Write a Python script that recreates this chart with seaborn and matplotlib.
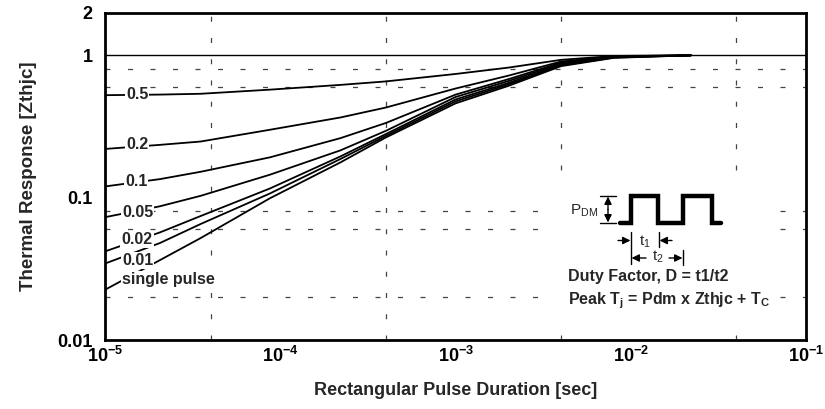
import numpy as np
import pandas as pd
import matplotlib
matplotlib.use("Agg")
import matplotlib.pyplot as plt
import seaborn as sns
from matplotlib.lines import Line2D
from matplotlib.patches import Rectangle, FancyArrowPatch
from matplotlib.ticker import FixedLocator, NullLocator, FixedFormatter

# ---------------- data ----------------
pulse_t = [1e-5, 2.05e-5, 3.5e-5, 8.7e-5, 2.2e-4, 4e-4, 1e-3, 2e-3, 4e-3, 8e-3, 2.2e-2]
z_d050 = [0.525, 0.53, 0.537, 0.574, 0.62, 0.656, 0.74, 0.82, 0.93, 0.99, 1.0]
z_d020 = [0.22, 0.235, 0.248, 0.30, 0.366, 0.43, 0.585, 0.72, 0.905, 0.985, 1.0]
z_d010 = [0.12, 0.135, 0.152, 0.192, 0.262, 0.335, 0.53, 0.68, 0.89, 0.98, 1.0]
z_d005 = [0.073, 0.087, 0.103, 0.145, 0.215, 0.295, 0.51, 0.66, 0.875, 0.975, 1.0]
z_d002 = [0.042, 0.057, 0.0743, 0.116, 0.195, 0.28, 0.49, 0.64, 0.86, 0.97, 1.0]
z_d001 = [0.0345, 0.048, 0.0653, 0.107, 0.187, 0.272, 0.475, 0.625, 0.85, 0.965, 1.0]
z_single = [0.0226, 0.0364, 0.052, 0.099, 0.177, 0.265, 0.46, 0.61, 0.84, 0.96, 1.0]

series_names = ["0.5", "0.2", "0.1", "0.05", "0.02", "0.01", "single pulse"]
series_vals = [z_d050, z_d020, z_d010, z_d005, z_d002, z_d001, z_single]
# label anchor positions (x, y) in data units
label_x = [1.52e-5, 1.52e-5, 1.5e-5, 1.53e-5, 1.52e-5, 1.53e-5, 1.24e-5]
label_y = [0.53, 0.235, 0.130, 0.0785, 0.0509, 0.0364, 0.0266]

x_ticks = [1e-5, 1e-4, 1e-3, 1e-2, 1e-1]
x_ticklabels = [r"$\mathbf{10^{-5}}$", r"$\mathbf{10^{-4}}$", r"$\mathbf{10^{-3}}$",
                r"$\mathbf{10^{-2}}$", r"$\mathbf{10^{-1}}$"]
y_ticks = [0.01, 0.1, 1, 2]
y_ticklabels = ["0.01", "0.1", "1", "2"]
grid_x = [4e-5, 4e-4, 4e-3, 4e-2]
grid_y = [0.02, 0.06, 0.08, 0.6, 0.8]

rows = []
for name, vals in zip(series_names, series_vals):
    for t, z in zip(pulse_t, vals):
        rows.append({"t": t, "z": z, "D": name})
df = pd.DataFrame(rows)

# ---------------- style ----------------
sns.set_theme(style="white")
plt.rcParams["font.family"] = ["Liberation Sans", "DejaVu Sans"]
plt.rcParams["mathtext.fontset"] = "custom"
plt.rcParams["mathtext.rm"] = "Liberation Sans"
plt.rcParams["mathtext.it"] = "Liberation Sans:italic"
plt.rcParams["mathtext.bf"] = "Liberation Sans:bold"

W, H = 825, 409
fig = plt.figure(figsize=(W / 100, H / 100), dpi=100)
ax = fig.add_axes([105.3 / W, 1 - 340 / H, (806 - 105.3) / W, (340 - 12.5) / H])

def fp(x, y):
    return (x / W, 1 - y / H)

# grid
for gx in grid_x:
    ax.axvline(gx, color="#444444", lw=0.9, ls=(0, (4, 13)), zorder=1)
for gy in grid_y:
    ax.axhline(gy, color="#444444", lw=0.9, ls=(0, (4, 14)), zorder=1)
ax.axhline(1.0, color="black", lw=1.0, zorder=2)

# white panel behind the pulse diagram (hides the grid there)
fig.add_artist(Rectangle(fp(550, 325), 228 / W, 140 / H, transform=fig.transFigure,
                         facecolor="white", edgecolor="none", zorder=1.5))

sns.lineplot(data=df, x="t", y="z", hue="D", palette=["black"] * 7,
             legend=False, lw=1.3, ax=ax, zorder=3)

ax.set_xscale("log")
ax.set_yscale("log")
ax.set_xlim(1e-5, 1e-1)
ax.set_ylim(0.01, 2)

ax.xaxis.set_major_locator(FixedLocator(x_ticks))
ax.xaxis.set_major_formatter(FixedFormatter(x_ticklabels))
ax.xaxis.set_minor_locator(NullLocator())
ax.yaxis.set_major_locator(FixedLocator(y_ticks))
ax.yaxis.set_major_formatter(FixedFormatter(y_ticklabels))
ax.yaxis.set_minor_locator(NullLocator())
ax.tick_params(axis="both", length=0, labelsize=13, colors="black")
ax.tick_params(axis="y", pad=9)
ax.tick_params(axis="x", pad=4)
for lab in ax.get_yticklabels():
    lab.set_fontweight("bold")

for s in ax.spines.values():
    s.set_color("black")
    s.set_linewidth(2.0)

ax.set_xlabel("Rectangular Pulse Duration [sec]", fontsize=13, fontweight="bold",
              labelpad=12)
ax.set_ylabel("Thermal Response [Zthjc]", fontsize=13.5, fontweight="bold", labelpad=15)

# curve labels
for name, lx, ly in zip(series_names, label_x, label_y):
    ha = "left" if name == "single pulse" else "center"
    ax.text(lx, ly, name, fontsize=11.5, fontweight="bold", ha=ha, va="center",
            zorder=5, bbox=dict(facecolor="white", edgecolor="none", pad=0.8))

# ---------------- pulse diagram inset ----------------
wave_x = [620, 631, 631, 657.5, 657.5, 682.5, 682.5, 711.5, 711.5, 721]
wave_y = [222.7, 222.7, 196, 196, 222.7, 222.7, 196, 196, 222.7, 222.7]
fig.add_artist(Line2D([x / W for x in wave_x], [1 - y / H for y in wave_y],
                      transform=fig.transFigure, color="black", lw=3.2,
                      solid_joinstyle="miter", zorder=4))

def fline(x0, y0, x1, y1, lw=1.0):
    fig.add_artist(Line2D([x0 / W, x1 / W], [1 - y0 / H, 1 - y1 / H],
                          transform=fig.transFigure, color="black", lw=lw, zorder=4))

def farrow(x0, y0, x1, y1):
    fig.add_artist(FancyArrowPatch(fp(x0, y0), fp(x1, y1), transform=fig.transFigure,
                                   arrowstyle="-|>,head_length=4.5,head_width=2.2",
                                   color="black", lw=1.0, shrinkA=0, shrinkB=0,
                                   zorder=4))

# P_DM arrow
fline(600, 196, 616, 196)
fline(600, 223, 616, 223)
farrow(608, 209.5, 608, 196.5)
farrow(608, 209.5, 608, 222.5)
fig.text(*fp(584, 211), r"P$_{\rm DM}$", fontsize=11, ha="center", va="center", zorder=5)

# t1
fline(631, 232, 631, 264)
fline(659, 232, 659, 247)
farrow(618, 240.5, 630.5, 240.5)
farrow(672, 240.5, 659.5, 240.5)
fig.text(*fp(645, 242), r"t$_1$", fontsize=11, ha="center", va="center", zorder=5)

# t2
fline(683, 250, 683, 265)
farrow(646, 258, 631.5, 258)
farrow(669, 258, 682.5, 258)
fig.text(*fp(657.5, 257), r"t$_2$", fontsize=11, ha="center", va="center", zorder=5)

fig.text(*fp(568, 277), "Duty Factor, D = t1/t2", fontsize=11.5, fontweight="bold",
         ha="left", va="center", zorder=5)
fig.text(*fp(568, 301), r"Peak T$_\mathbf{j}$ = Pdm x Zthjc + T$_\mathbf{C}$",
         fontsize=11.5, fontweight="bold", ha="left", va="center", zorder=5)

fig.savefig("out.png", dpi=100, facecolor="white")
